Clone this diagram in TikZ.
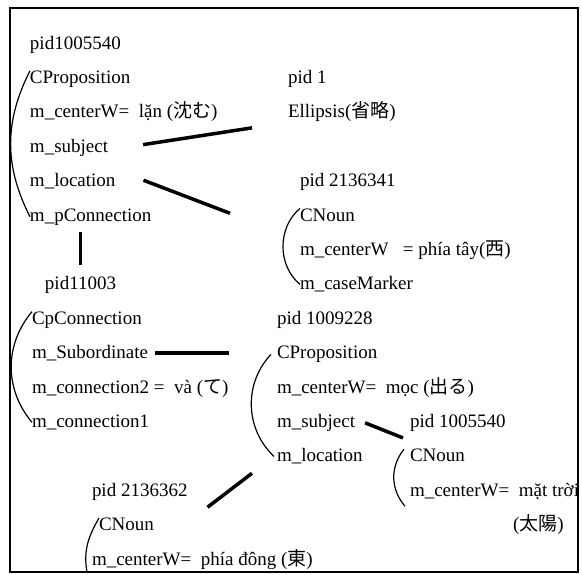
\documentclass[tikz,border=0pt]{standalone}
\usepackage{fontspec}
\setmainfont{Liberation Serif}
\newfontfamily\jpfont{Noto Sans CJK JP}
\usetikzlibrary{positioning}
\tikzset{  ln/.style={inner sep=0pt,outer sep=0pt,anchor=base west,font=\fontsize{19}{23}\selectfont},
  link/.style={line width=3.5pt},
  brk/.style={line width=1.2pt} }
\newcommand{\jp}[1]{{\jpfont #1}}

\begin{document}
\begin{tikzpicture}[x=1pt,y=1pt,node distance=34.4pt]
  \useasboundingbox (0,0) rectangle (582,-574);
  \draw[line width=1.5pt] (10,-8) rectangle (578,-572);
  \node[ln] (p1) at (30,-49) {pid1005540};
  \node[below=of p1.base west,ln] (c1) {CProposition};
  \node[below=of c1.base west,ln] (w1) {m\_centerW=\ \ lặn (\jp{沈む})};
  \node[below=of w1.base west,ln] (s1) {m\_subject};
  \node[below=of s1.base west,ln] (l1) {m\_location};
  \node[below=of l1.base west,ln] (pc1) {m\_pConnection};
  \node[ln] (p2) at (288,-83.4) {pid 1};
  \node[below=of p2.base west,ln] (e2) {Ellipsis(\jp{省略})};
  \node[ln] (p3) at (300,-186.6) {pid 2136341};
  \node[below=of p3.base west,ln] (c3) {CNoun};
  \node[below=of c3.base west,ln] (w3) {m\_centerW\ \ \ = phía tây(\jp{西})};
  \node[below=of w3.base west,ln] (k3) {m\_caseMarker};
  \node[ln] (p4) at (45,-289.8) {pid11003};
  \node[ln] (c4) at (32,-324.2) {CpConnection};
  \node[below=of c4.base west,ln] (s4) {m\_Subordinate};
  \node[below=of s4.base west,ln] (n4b) {m\_connection2 =\ \ và (\jp{て})};
  \node[below=of n4b.base west,ln] (n4a) {m\_connection1};
  \node[ln] (p5) at (277,-324.2) {pid 1009228};
  \node[below=of p5.base west,ln] (c5) {CProposition};
  \node[below=of c5.base west,ln] (w5) {m\_centerW=\ \ mọc (\jp{出る})};
  \node[below=of w5.base west,ln] (s5) {m\_subject};
  \node[below=of s5.base west,ln] (l5) {m\_location};
  \node[ln] (p6) at (410,-427.4) {pid 1005540};
  \node[below=of p6.base west,ln] (c6) {CNoun};
  \node[below=of c6.base west,ln] (w6) {m\_centerW=\ \ mặt trời};
  \node[ln] (t6) at (513,-530.6) {(\jp{太陽})};
  \node[ln] (p7) at (92,-496.2) {pid 2136362};
  \node[below=of p7.base west,ln,xshift=7pt] (c7) {CNoun};
  \node[below=of c7.base west,ln,xshift=-7pt] (w7) {m\_centerW=\ \ phía đông (\jp{東})};
  \draw[link] ([xshift=35pt,yshift=3pt]s1.east) -- ([xshift=-36pt,yshift=-6pt]e2.south west);
  \draw[link] ([xshift=28pt,yshift=1pt]l1.east) -- ([xshift=-70pt,yshift=1.5pt]c3.west);
  \draw[link,shorten <=7pt,shorten >=12pt] (p4.north |- pc1.south) -- (p4.north);
  \draw[link,shorten <=7pt,shorten >=48pt] (s4.east) -- (s4.east -| c5.west);
  \draw[link] ([xshift=-25pt,yshift=-9pt]l5.south west) -- ([xshift=20pt,yshift=-7pt]p7.south east);
  \draw[link] ([xshift=10pt]s5.east) -- ([xshift=-7pt,yshift=-6.5pt]p6.south west);
  \draw[brk] (c1.north west) to[bend right=27] (pc1.west);
  \draw[brk] (c3.north west) to[bend right=50] (k3.west);
  \draw[brk] (c4.north west) to[bend right=40] (n4a.west);
  \draw[brk] ([xshift=-6pt]c5.west) to[bend right=45] ([xshift=-3pt]l5.west);
  \draw[brk] ([xshift=-6pt]c6.north west) to[bend right=40] ([xshift=-5pt,yshift=-10pt]w6.base west);
  \draw[brk] (c7.north west) to[out=-120,in=100] ([xshift=-5pt,yshift=-7pt]w7.base west);
\end{tikzpicture}
\end{document}
